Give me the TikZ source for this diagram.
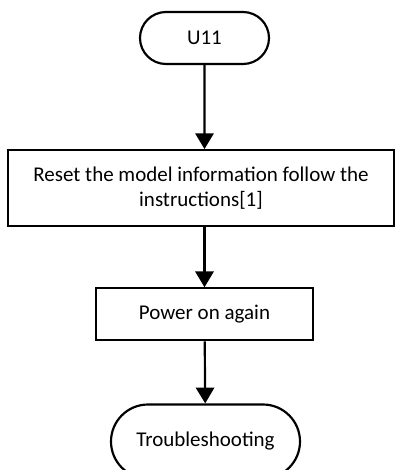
\documentclass[tikz,border=0pt]{standalone}
\usepackage{fontspec}
\setmainfont{Carlito}
\usepackage{tikz}
\usepackage{xcolor}
\usetikzlibrary{
    positioning,
    calc,
    shapes.misc,
    arrows.meta
}
\definecolor{Linea}{HTML}{000000}

\tikzset{
    terminal/.style={
        draw=Linea,
        line width=1.3pt,
        rounded rectangle,
        inner sep=0pt,
        font=\fontsize{12.6}{15}\selectfont
    },
    paso/.style={
        draw=Linea,
        line width=1.3pt,
        rectangle,
        inner sep=0pt,
        align=center,
        font=\fontsize{12.6}{15.2}\selectfont
    },
    flecha/.style={
        draw=Linea,
        line width=1.3pt,
        -{Triangle[length=9.5pt,width=11pt]}
    }
}

\begin{document}
\begin{tikzpicture}
                \useasboundingbox (0pt,0pt) rectangle (237pt,-282pt);

                \node[
                    terminal,
                    minimum width=77.4pt,
                    minimum height=31.2pt
                ] (u11) at (122.7pt,-22.8pt) {U11};

                \node[
                    paso,
                    minimum width=231.6pt,
                    minimum height=45.6pt,
                    below=50.4pt of u11,
                    xshift=-2.1pt
                ] (reset) {Reset the model information follow the\\instructions[1]};

                \node[
                    paso,
                    minimum width=130.2pt,
                    minimum height=31.2pt,
                    below=36pt of reset,
                    xshift=2.1pt
                ] (power) {Power on again};

                \node[
                    terminal,
                    minimum width=113.4pt,
                    minimum height=44.4pt,
                    below=37.2pt of power,
                    xshift=0.6pt
                ] (trouble) {Troubleshooting};

                \draw[flecha] (u11) -- (u11 |- reset.north);
                \draw[flecha] (u11 |- reset.south) -- (power);
                \draw[flecha] (power) -- (trouble);
            \end{tikzpicture}
\end{document}
